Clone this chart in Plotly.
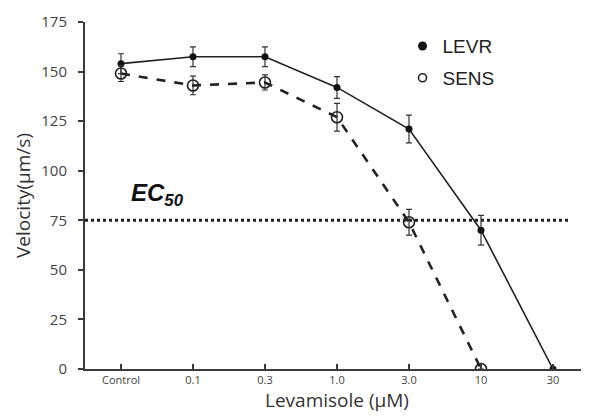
import plotly.graph_objects as go

categories = ["Control", "0.1", "0.3", "1.0", "3.0", "10", "30"]
levr = [154, 157.5, 157.5, 142, 121, 70, 0]
levr_err = [5, 5, 5, 5.5, 7, 7.5, 0]
sens = [149, 143, 144.5, 127, 74, 0]
sens_err = [4, 4.7, 3.8, 7, 6.5, 0]
ec50 = 75
yticks = [0, 25, 50, 75, 100, 125, 150, 175]

xs = list(range(len(categories)))
axis_col = "#3a3a3a"
fig = go.Figure()

fig.add_shape(type="line", xref="paper", yref="y", x0=0, x1=0.962, y0=ec50, y1=ec50,
              line=dict(color="#222", width=3, dash="dot"))

fig.add_trace(go.Scatter(
    x=xs, y=levr, mode="lines+markers", showlegend=False,
    line=dict(color="#222", width=1.6),
    marker=dict(symbol="circle", size=7, color="#111"),
    error_y=dict(type="data", array=levr_err, color="#333", thickness=1.2, width=3),
))
fig.add_trace(go.Scatter(
    x=xs[:len(sens)], y=sens, mode="lines+markers", showlegend=False,
    line=dict(color="#222", width=2.6, dash="dash"),
    marker=dict(symbol="circle-open", size=11, color="#222", line=dict(width=1.6)),
    error_y=dict(type="data", array=sens_err, color="#333", thickness=1.2, width=3),
))
fig.add_trace(go.Scatter(x=[None], y=[None], mode="markers", name="LEVR", legendgroup="a",
                         marker=dict(symbol="circle", size=9, color="#111")))
fig.add_trace(go.Scatter(x=[None], y=[None], mode="markers", name="SENS", legendgroup="b",
                         marker=dict(symbol="circle-open", size=8, color="#222", line=dict(width=1.6))))

fig.add_annotation(x=0.5, y=79, xref="x", yref="y", xanchor="center", yanchor="bottom",
                   text="<b><i>EC<sub>50</sub></i></b>", showarrow=False,
                   font=dict(family="Liberation Sans, Arial", size=24, color="#111"))

fig.update_layout(
    width=581, height=408,
    margin=dict(l=77, r=0, t=14, b=47),
    paper_bgcolor="white", plot_bgcolor="white",
    legend=dict(x=0.63, y=0.985, xanchor="left", yanchor="top", bgcolor="rgba(0,0,0,0)",
                font=dict(family="Liberation Sans, Arial", size=19, color="#222"),
                itemwidth=30, tracegroupgap=4),
    xaxis=dict(
        range=[-0.5, 6.5], tickmode="array", tickvals=xs, ticktext=categories, automargin=False,
        showline=True, linecolor=axis_col, linewidth=2, showgrid=False, zeroline=False,
        ticks="inside", ticklen=5, tickwidth=2, tickcolor=axis_col,
        tickfont=dict(family="Open Sans", size=11, color="#444"),
        title=dict(text="Levamisole (µM)", font=dict(family="Open Sans", size=19, color="#333"), standoff=2),
    ),
    yaxis=dict(
        range=[0, 175], tickmode="array", tickvals=yticks, automargin=False,
        showline=True, linecolor=axis_col, linewidth=2, showgrid=False, zeroline=False,
        ticks="outside", ticklen=5, tickwidth=2, tickcolor=axis_col, ticklabelstandoff=8,
        tickfont=dict(family="Open Sans", size=15, color="#444"),
        title=dict(text="Velocity(µm/s)", font=dict(family="Open Sans", size=19, color="#333"), standoff=6),
    ),
)

fig.write_html("out.html")
